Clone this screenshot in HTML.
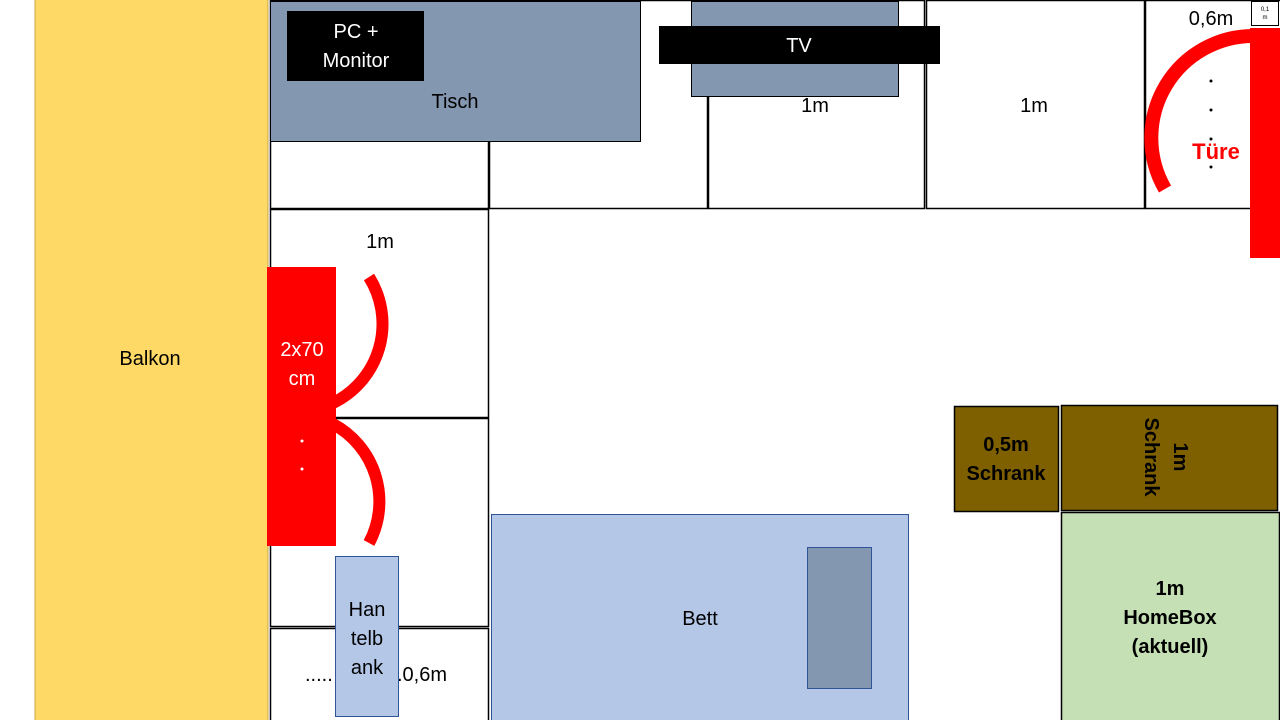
<!DOCTYPE html>
<html><head><meta charset="utf-8"><style>
html,body{margin:0;padding:0;background:#fff;}
svg{display:block;}
text{font-family:"Liberation Sans",sans-serif;}
</style></head><body>
<svg width="1280" height="720" viewBox="0 0 1280 720" xmlns="http://www.w3.org/2000/svg">
<rect x="0" y="0" width="1280" height="720" fill="#fff"/>
<rect x="35" y="-1" width="233" height="722" fill="#FFD966" stroke="#C9A640" stroke-width="1"/>
<text x="150" y="365" font-size="20" text-anchor="middle">Balkon</text>
<g fill="none" stroke="#000" stroke-width="1.5">
<rect x="270.5" y="0.5" width="218" height="208"/>
<rect x="489.5" y="0.5" width="218" height="208"/>
<rect x="708.5" y="0.5" width="216" height="208"/>
<rect x="926.5" y="0.5" width="218" height="208"/>
<rect x="1145.5" y="0.5" width="140" height="208"/>
<rect x="270.5" y="209.5" width="218" height="208"/>
<rect x="270.5" y="418.5" width="218" height="208"/>
<rect x="270.5" y="628.5" width="218" height="100"/>
</g>
<text x="815" y="112" font-size="20" text-anchor="middle">1m</text>
<text x="1034" y="112" font-size="20" text-anchor="middle">1m</text>
<text x="1211" y="25" font-size="20" text-anchor="middle">0,6m</text>
<text x="380" y="248" font-size="20" text-anchor="middle">1m</text>
<text x="305" y="681" font-size="20">.....</text>
<text x="397" y="681" font-size="20">.0,6m</text>
<rect x="270.5" y="1.5" width="370" height="140" fill="#8497B0" stroke="#000" stroke-width="1"/>
<text x="455" y="108" font-size="20" text-anchor="middle">Tisch</text>
<rect x="287" y="11" width="137" height="70" fill="#000"/>
<text x="356" y="38" font-size="20" fill="#fff" text-anchor="middle">PC +</text>
<text x="356" y="67" font-size="20" fill="#fff" text-anchor="middle">Monitor</text>
<rect x="691.5" y="1.5" width="207" height="95" fill="#8497B0" stroke="#000" stroke-width="1"/>
<rect x="659" y="26" width="281" height="38" fill="#000"/>
<text x="799" y="52" font-size="20" fill="#fff" text-anchor="middle">TV</text>
<path d="M1256,36 A102,102 0 0 0 1165,189" fill="none" stroke="#f00" stroke-width="14"/>
<rect x="1250" y="28" width="30" height="230" fill="#f00"/>
<rect x="1251.5" y="1.5" width="27" height="24" fill="#fff" stroke="#000" stroke-width="1"/>
<text x="1265" y="11" font-size="6" text-anchor="middle">0,1</text>
<text x="1265" y="19" font-size="6" text-anchor="middle">m</text>
<g fill="#000"><circle cx="1211" cy="81" r="1.5"/><circle cx="1211" cy="110" r="1.5"/><circle cx="1211" cy="139" r="1.5"/><circle cx="1211" cy="167" r="1.5"/></g>
<text x="1216" y="159" font-size="22" font-weight="bold" fill="#f00" text-anchor="middle">Türe</text>
<path d="M369,277 A88,88 0 0 1 333,403" fill="none" stroke="#f00" stroke-width="12"/>
<path d="M333,424 A88,88 0 0 1 369,543" fill="none" stroke="#f00" stroke-width="12"/>
<rect x="267" y="267" width="69" height="279" fill="#f00"/>
<text x="302" y="356" font-size="20" fill="#fff" text-anchor="middle">2x70</text>
<text x="302" y="385" font-size="20" fill="#fff" text-anchor="middle">cm</text>
<circle cx="302" cy="441" r="1.5" fill="#fff"/><circle cx="302" cy="469" r="1.5" fill="#fff"/>
<rect x="335.5" y="556.5" width="63" height="160" fill="#B4C7E7" stroke="#2F5597" stroke-width="1"/>
<text x="367" y="616" font-size="20" text-anchor="middle">Han</text>
<text x="367" y="645" font-size="20" text-anchor="middle">telb</text>
<text x="367" y="674" font-size="20" text-anchor="middle">ank</text>
<rect x="491.5" y="514.5" width="417" height="210" fill="#B4C7E7" stroke="#2F5597" stroke-width="1"/>
<rect x="807.5" y="547.5" width="64" height="141" fill="#8497B0" stroke="#2F5597" stroke-width="1"/>
<text x="700" y="625" font-size="20" text-anchor="middle">Bett</text>
<rect x="954.5" y="406.5" width="104" height="105" fill="#7F6000" stroke="#000" stroke-width="1.5"/>
<text x="1006" y="451" font-size="20" font-weight="bold" text-anchor="middle">0,5m</text>
<text x="1006" y="480" font-size="20" font-weight="bold" text-anchor="middle">Schrank</text>
<rect x="1061.5" y="405.5" width="216" height="105" fill="#7F6000" stroke="#000" stroke-width="1.5"/>
<g transform="translate(1157,457) rotate(90)">
<text x="0" y="-17" font-size="20" font-weight="bold" text-anchor="middle">1m</text>
<text x="0" y="12" font-size="20" font-weight="bold" text-anchor="middle">Schrank</text>
</g>
<rect x="1061.5" y="512.5" width="218" height="210" fill="#C5E0B4" stroke="#000" stroke-width="1.5"/>
<text x="1170" y="595" font-size="20" font-weight="bold" text-anchor="middle">1m</text>
<text x="1170" y="624" font-size="20" font-weight="bold" text-anchor="middle">HomeBox</text>
<text x="1170" y="653" font-size="20" font-weight="bold" text-anchor="middle">(aktuell)</text>
</svg>
</body></html>
